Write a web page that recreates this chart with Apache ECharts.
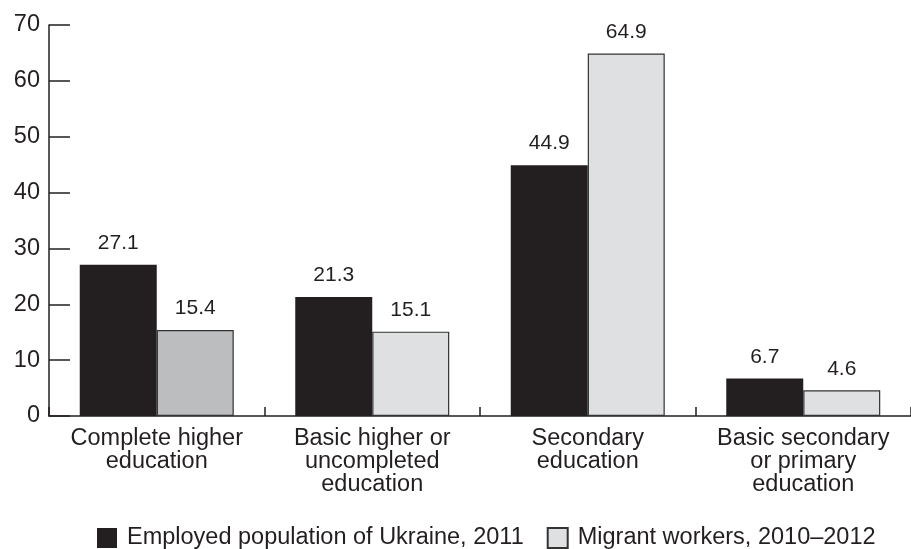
<!DOCTYPE html>
<html>
<head>
<meta charset="utf-8">
<script src="https://cdn.jsdelivr.net/npm/echarts@6/dist/echarts.min.js"></script>
<style>
  html, body { margin: 0; padding: 0; background: #ffffff; }
  #chart { width: 911px; height: 549px; }
</style>
</head>
<body>
<div id="chart"></div>
<script>
// Education levels compared between two groups (percent)
const categories = [
  'Complete higher\neducation',
  'Basic higher or\nuncompleted\neducation',
  'Secondary\neducation',
  'Basic secondary\nor primary\neducation'
];
const seriesNames = ['Employed population of Ukraine, 2011', 'Migrant workers, 2010\u20132012'];
const employed = [27.1, 21.3, 44.9, 6.7];
const migrants = [15.4, 15.1, 64.9, 4.6];
const yTicks = { min: 0, max: 70, interval: 10 };

const INK = '#231f20';
const FONT = '"Liberation Sans", Arial, Helvetica, sans-serif';

const chart = echarts.init(document.getElementById('chart'), null, { renderer: 'canvas' });

const labelStyle = {
  show: true,
  position: 'top',
  distance: 11,
  color: INK,
  fontFamily: FONT,
  fontSize: 21,
  formatter: p => p.value.toFixed(1)
};

chart.setOption({
  animation: false,
  backgroundColor: '#ffffff',
  textStyle: { fontFamily: FONT, color: INK },
  grid: { left: 49, top: 25, width: 870, bottom: 133, containLabel: false },
  legend: {
    left: 97,
    top: 526,
    itemWidth: 20,
    itemHeight: 20,
    itemGap: 23,
    padding: 0,
    icon: 'rect',
    textStyle: { fontFamily: FONT, fontSize: 23.5, color: INK, padding: [0, 0, 0, 5] },
    data: seriesNames
  },
  xAxis: {
    type: 'category',
    data: categories,
    boundaryGap: true,
    axisLine: { lineStyle: { color: INK, width: 1.5 } },
    axisTick: { show: true, inside: true, length: 9, alignWithLabel: false, lineStyle: { color: INK, width: 1.5 } },
    axisLabel: { interval: 0, margin: 11, color: INK, fontFamily: FONT, fontSize: 23.5, lineHeight: 23 },
    splitLine: { show: false }
  },
  yAxis: {
    type: 'value',
    min: yTicks.min,
    max: yTicks.max,
    interval: yTicks.interval,
    axisLine: { show: true, lineStyle: { color: INK, width: 1.5 } },
    axisTick: { show: true, inside: true, length: 21, lineStyle: { color: INK, width: 1.5 } },
    axisLabel: { margin: 9, color: INK, fontFamily: FONT, fontSize: 23.5 },
    splitLine: { show: false }
  },
  series: [
    {
      name: seriesNames[0],
      type: 'bar',
      data: employed,
      barWidth: 77,
      barGap: '0%',
      itemStyle: { color: INK },
      label: labelStyle
    },
    {
      name: seriesNames[1],
      type: 'bar',
      data: migrants.map((v, i) => i === 0
        ? { value: v, itemStyle: { color: '#bcbdbf' } }
        : v),
      barWidth: 77,
      barGap: '0%',
      itemStyle: { color: '#dfe0e2', borderColor: '#333333', borderWidth: 1.2 },
      label: labelStyle
    }
  ]
});
</script>
</body>
</html>
